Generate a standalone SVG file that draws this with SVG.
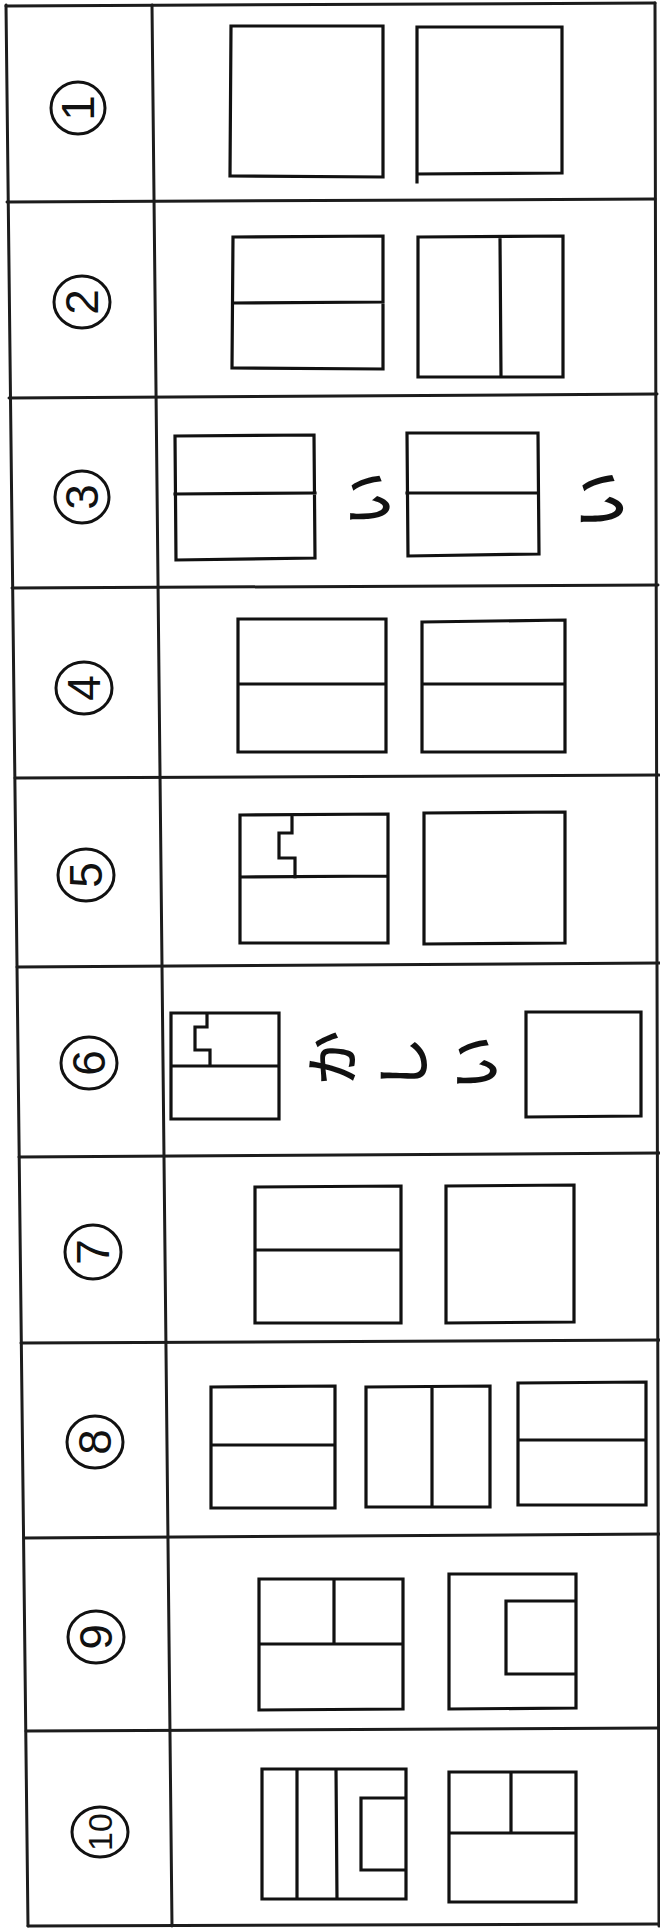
<svg xmlns="http://www.w3.org/2000/svg" width="660" height="1928" viewBox="0 0 660 1928">
<style>
.tbl{stroke:#1c1c1c;stroke-width:3;fill:none;stroke-linecap:round}
.bx{stroke:#111;stroke-width:3.2;fill:none;stroke-linejoin:miter;stroke-linecap:square}
.ring{stroke:#111;stroke-width:3;fill:none}
.num{font-family:"Liberation Sans","DejaVu Sans",sans-serif;font-size:46px;fill:#111;text-anchor:middle;dominant-baseline:central}
.jp{font-family:"Noto Sans CJK JP",sans-serif;font-size:54px;font-weight:500;fill:#111;text-anchor:middle;dominant-baseline:central}
</style>
<rect x="0" y="0" width="660" height="1928" fill="#fff"/>
<g id="table" class="tbl">
<path d="M6,6 L655,3"/>
<path d="M7,202 L655,199"/>
<path d="M9,398 L657,394"/>
<path d="M12,588 L658,585"/>
<path d="M15,778 L659,775"/>
<path d="M17,967 L660,963"/>
<path d="M19,1157 L660,1153"/>
<path d="M21,1343 L660,1340"/>
<path d="M24,1538 L660,1534"/>
<path d="M26,1731 L660,1728"/>
<path d="M28,1926 L660,1924"/>
<path d="M6,5 L28,1926"/>
<path d="M152,5 L172,1926"/>
<path d="M655,3 L659,1926"/>
</g>
<g id="row1">
<ellipse class="ring" cx="78" cy="108" rx="27" ry="26"/>
<text class="num" transform="rotate(-90 78 108)" x="78" y="108">1</text>
<path class="bx" d="M231,26 L383,26 L383,177 L230,176 Z"/>
<path class="bx" d="M417,182 L417,27 L562,27 L562,173 L417,174"/>
</g>
<g id="row2">
<ellipse class="ring" cx="82" cy="302" rx="28" ry="26"/>
<text class="num" transform="rotate(-90 82 302)" x="82" y="302">2</text>
<path class="bx" d="M233,237 L383,236 L383,369 L232,368 Z M233,303 L383,302"/>
<path class="bx" d="M418,237 L563,236 L563,377 L418,377 Z M500,237 L501,377"/>
</g>
<g id="row3">
<ellipse class="ring" cx="82" cy="497" rx="27" ry="26"/>
<text class="num" transform="rotate(-90 82 497)" x="82" y="497">3</text>
<path class="bx" d="M175,436 L314,435 L315,558 L176,560 Z M175,494 L315,493"/>
<path class="bx" d="M407,433 L538,433 L539,554 L408,556 Z M407,493 L538,493"/>
<text class="jp" transform="rotate(-90 365 499)" x="365" y="499">い</text>
<text class="jp" transform="rotate(-90 597 500)" x="597" y="500" style="font-size:58px">い</text>
</g>
<g id="row4">
<ellipse class="ring" cx="84" cy="688" rx="28" ry="26"/>
<text class="num" transform="rotate(-90 84 688)" x="84" y="688">4</text>
<path class="bx" d="M238,619 L386,619 L386,752 L238,752 Z M238,684 L386,684"/>
<path class="bx" d="M422,622 L565,620 L565,752 L422,752 Z M422,684 L565,684"/>
</g>
<g id="row5">
<ellipse class="ring" cx="86" cy="875" rx="28" ry="26"/>
<text class="num" transform="rotate(-90 86 875)" x="86" y="875">5</text>
<path class="bx" d="M240,815 L388,814 L388,943 L240,943 Z M240,877 L388,876 M292,815 L292,833 L279,833 L279,858 L295,858 L295,877"/>
<path class="bx" d="M424,813 L565,812 L565,943 L424,944 Z"/>
</g>
<g id="row6">
<ellipse class="ring" cx="89" cy="1063" rx="28" ry="26"/>
<text class="num" transform="rotate(-90 89 1063)" x="89" y="1063">6</text>
<path class="bx" d="M171,1013 L279,1013 L279,1119 L171,1119 Z M171,1066 L279,1066 M207,1013 L207,1027 L195,1027 L195,1050 L210,1050 L210,1066"/>
<text class="jp" transform="rotate(-90 329 1058)" x="329" y="1058">か</text>
<text class="jp" transform="rotate(-90 400 1064)" x="400" y="1064">し</text>
<text class="jp" transform="rotate(-90 472 1063)" x="472" y="1063">い</text>
<path class="bx" d="M526,1012 L641,1012 L641,1116 L526,1117 Z"/>
</g>
<g id="row7">
<ellipse class="ring" cx="93" cy="1252" rx="28" ry="27"/>
<text class="num" transform="rotate(-90 93 1252)" x="93" y="1252">7</text>
<path class="bx" d="M255,1187 L401,1186 L401,1323 L255,1323 Z M255,1250 L401,1250"/>
<path class="bx" d="M446,1186 L574,1185 L574,1322 L446,1323 Z"/>
</g>
<g id="row8">
<ellipse class="ring" cx="95" cy="1442" rx="28" ry="26"/>
<text class="num" transform="rotate(-90 95 1442)" x="95" y="1442">8</text>
<path class="bx" d="M211,1387 L335,1386 L335,1508 L211,1508 Z M211,1445 L335,1445"/>
<path class="bx" d="M366,1387 L490,1386 L490,1507 L366,1507 Z M432,1387 L432,1507"/>
<path class="bx" d="M518,1383 L646,1382 L646,1505 L518,1505 Z M518,1440 L646,1440"/>
</g>
<g id="row9">
<ellipse class="ring" cx="96" cy="1637" rx="28" ry="26"/>
<text class="num" transform="rotate(-90 96 1637)" x="96" y="1637">9</text>
<path class="bx" d="M259,1579 L403,1579 L403,1709 L259,1710 Z M259,1644 L403,1644 M334,1579 L334,1644"/>
<path class="bx" d="M449,1574 L576,1574 L576,1708 L449,1709 Z M576,1601 L506,1601 L506,1674 L576,1674"/>
</g>
<g id="row10">
<ellipse class="ring" cx="100" cy="1832" rx="28" ry="25"/>
<text class="num" transform="rotate(-90 100 1832)" x="100" y="1832" style="font-size:34px">10</text>
<path class="bx" d="M262,1769 L406,1769 L406,1899 L262,1899 Z M297,1769 L297,1899 M336,1769 L337,1899 M406,1798 L361,1798 L361,1870 L406,1870"/>
<path class="bx" d="M449,1772 L576,1772 L576,1902 L449,1902 Z M449,1833 L576,1833 M511,1772 L511,1833"/>
</g>
</svg>
